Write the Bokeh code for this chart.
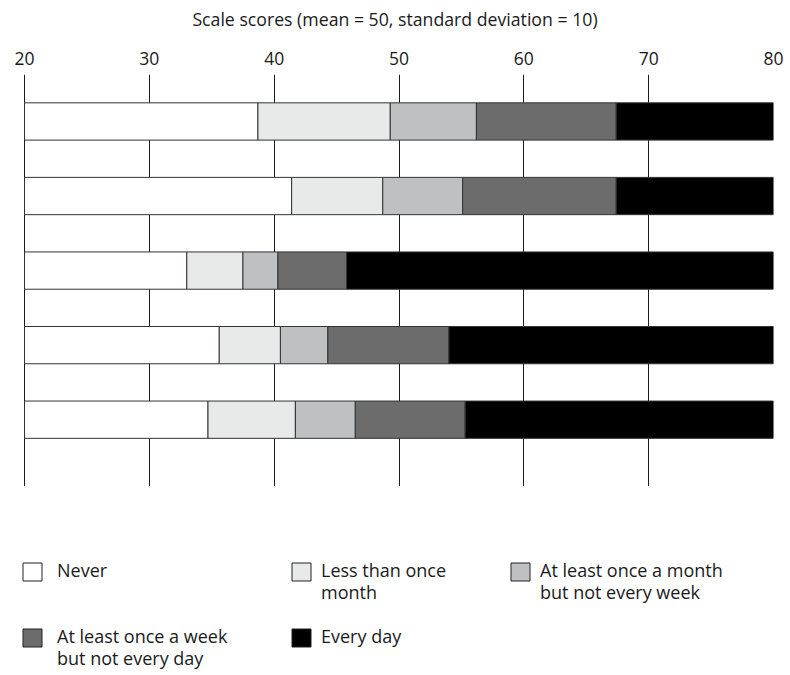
from bokeh.plotting import figure
from bokeh.models import Range1d, FixedTicker, ColumnDataSource
from bokeh.layouts import column
from bokeh.embed import file_html
from bokeh.resources import INLINE
from bokeh.core.properties import value

# ---- data ----
rows = [1, 2, 3, 4, 5]
categories = ["Never", "Less than once\nmonth", "At least once a month\nbut not every week",
              "At least once a week\nbut not every day", "Every day"]
never = [18.7, 21.4, 13.0, 15.6, 14.7]
less_than_monthly = [10.6, 7.3, 4.5, 4.9, 7.0]
monthly = [6.9, 6.4, 2.8, 3.8, 4.8]
weekly = [11.2, 12.3, 5.5, 9.7, 8.8]
every_day = [12.6, 12.6, 34.2, 26.0, 24.7]
axis_start = 20
axis_end = 80
x_ticks = [20, 30, 40, 50, 60, 70, 80]
axis_title = "Scale scores (mean = 50, standard deviation = 10)"

series = [never, less_than_monthly, monthly, weekly, every_day]
colors = ["#ffffff", "#e8e9e9", "#bfc0c1", "#6b6c6b", "#000000"]
FONT = "Open Sans"

W = 790
BL, BR = 16, 17
pad_px = 8                      # axis start sits 8px right of the frame edge
frame_w = W - BL - BR
px_per_unit = (frame_w - pad_px) / (axis_end - axis_start)
x_start = axis_start - pad_px / px_per_unit

p = figure(width=W, height=486, output_backend="svg", toolbar_location=None,
           x_range=Range1d(x_start, axis_end), y_range=Range1d(4.896, -0.630),
           x_axis_location="above", y_axis_location=None,
           min_border_left=BL, min_border_right=BR, min_border_top=74, min_border_bottom=0)
p.outline_line_color = None
p.background_fill_color = "white"
p.border_fill_color = "white"

ax = p.xaxis[0]
ax.ticker = FixedTicker(ticks=x_ticks)
ax.axis_line_color = None
ax.major_tick_line_color = None
ax.minor_tick_line_color = None
ax.major_label_text_font = FONT
ax.major_label_text_font_size = "17.5px"
ax.major_label_text_color = "#1a1a1a"
ax.major_label_standoff = 4
ax.axis_label = axis_title
ax.axis_label_text_font = FONT
ax.axis_label_text_font_size = "17.7px"
ax.axis_label_text_font_style = "normal"
ax.axis_label_text_color = "#1a1a1a"
ax.axis_label_standoff = 18

p.xgrid.ticker = FixedTicker(ticks=x_ticks)
p.xgrid.grid_line_color = "#1a1a1a"
p.xgrid.grid_line_width = 1
p.ygrid.grid_line_color = None

ypos = [i for i in range(len(rows))]
left = [axis_start] * len(rows)
for vals, col in zip(series, colors):
    right = [l + v for l, v in zip(left, vals)]
    src = ColumnDataSource(dict(y=ypos, left=left, right=right))
    p.hbar(y="y", left="left", right="right", height=0.5, source=src,
           fill_color=col, line_color="#333333", line_width=1)
    left = right

# ---- legend figure (x in page pixels, y in pixels below the main figure) ----
LH = 189
lg = figure(width=W, height=LH, output_backend="svg", toolbar_location=None,
            x_range=Range1d(BL, W - BR), y_range=Range1d(LH, 0),
            x_axis_location=None, y_axis_location=None,
            min_border=0, min_border_left=BL, min_border_right=BR,
            min_border_top=0, min_border_bottom=0)
lg.outline_line_color = None
lg.xgrid.grid_line_color = None
lg.ygrid.grid_line_color = None

sw_x = [32, 301, 520, 32, 301]
sw_y = [85.5, 85.5, 85.5, 151.5, 151.5]
tx_x = [56.5, 320.5, 539.5, 56.5, 320.5]
tx_y = [71.5, 71.5, 71.5, 137.5, 137.5]
lg.rect(x=sw_x, y=sw_y, width=19, height=18, fill_color=colors,
        line_color="#222222", line_width=1)
lg.text(x=tx_x, y=tx_y, text=categories, text_font=value(FONT),
        text_font_size="18px", text_color="#1a1a1a", text_baseline="top",
        text_line_height=0.9)

layout = column(p, lg, spacing=0)
open("out.html", "w").write(file_html(layout, INLINE))
